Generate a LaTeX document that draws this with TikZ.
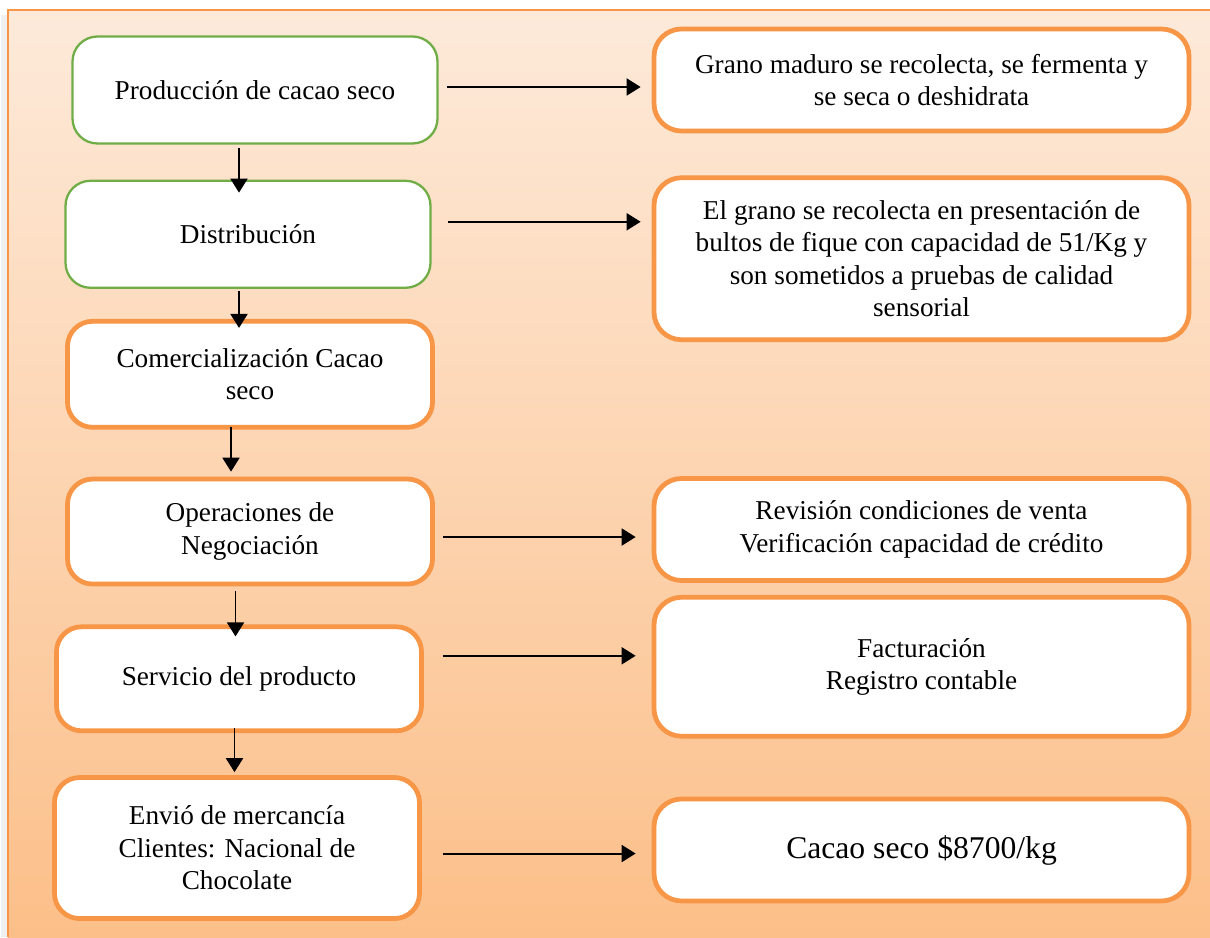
\documentclass[tikz,border=0pt]{standalone}
\usepackage{fontspec}
\setmainfont{Liberation Serif}
\usetikzlibrary{arrows.meta, positioning}

\definecolor{bgtop}{RGB}{253,234,218}
\definecolor{bgbottom}{RGB}{252,191,137}
\definecolor{boxorange}{RGB}{247,150,70}
\definecolor{leafgreen}{RGB}{112,173,71}

\begin{document}
\begin{tikzpicture}[
        stage/.style={draw, fill=white, rounded corners=0.5cm, minimum width=7.3cm, minimum height=2.14cm, align=center, font=\fontsize{15.5}{18.5}\selectfont},
        greenstage/.style={stage, draw=leafgreen, line width=1.3pt},
        orangestage/.style={stage, draw=boxorange, line width=2.7pt},
        detail/.style={draw=boxorange, line width=2.7pt, fill=white, rounded corners=0.55cm, minimum width=10.7cm, minimum height=2.04cm, align=center, font=\fontsize{15.5}{18.5}\selectfont},
        arrow/.style={-{Triangle[length=0.28cm, width=0.34cm]}, line width=1.1pt}
    ]
        \useasboundingbox (0,0) rectangle (24.2,-18.74);

        % Background
        \fill[gray!12] (0.02,-0.3) rectangle (0.13,-18.74);
        \fill[top color=bgtop, bottom color=bgbottom] (0.16,-0.2) rectangle (24.2,-18.74);
        \draw[boxorange, line width=1pt] (0.16,-18.74) -- (0.16,-0.2) -- (24.2,-0.2);

        % Stages
        \node[greenstage] (produccion) at (5.10,-1.80) {Producción de cacao seco};
        \node[greenstage, below=0.70cm of produccion, xshift=-0.14cm] (distribucion) {Distribución};
        \node[orangestage, below=0.60cm of distribucion, xshift=0.04cm, minimum height=2.12cm] (comercio) {Comercialización Cacao\\seco};
        \node[orangestage, below=0.94cm of comercio, minimum height=2.1cm] (negocio) {Operaciones de\\Negociación};
        \node[orangestage, below=0.76cm of negocio, xshift=-0.22cm, minimum height=2.08cm] (servicio) {Servicio del producto};
        \node[orangestage, below=0.84cm of servicio, xshift=-0.04cm, minimum height=2.82cm] (envio) {Envió de mercancía\\Clientes: Nacional de\\Chocolate};

        % Details
        \node[detail, right=4.26cm of produccion, yshift=0.2cm] (grano) {Grano maduro se recolecta, se fermenta y\\se seca o deshidrata};
        \node[detail, below=0.84cm of grano, minimum height=3.24cm] (bultos) {El grano se recolecta en presentación de\\bultos de fique con capacidad de 51/Kg y\\son sometidos a pruebas de calidad\\sensorial};
        \node[detail, below=2.68cm of bultos] (venta) {Revisión condiciones de venta\\Verificación capacidad de crédito};
        \node[detail, below=0.24cm of venta, minimum height=2.78cm] (factura) {Facturación\\Registro contable};
        \node[detail, below=1.16cm of factura, font=\fontsize{18}{21}\selectfont] (precio) {Cacao seco \$8700/kg};

        % Arrows down
        \draw[arrow, shorten <=0.06cm, shorten >=-0.26cm] ([xshift=-0.32cm]produccion.south) -- ([xshift=-0.32cm]produccion.south |- distribucion.north);
        \draw[arrow, shorten <=0.04cm, shorten >=-0.18cm] ([xshift=-0.18cm]distribucion.south) -- ([xshift=-0.18cm]distribucion.south |- comercio.north);
        \draw[arrow, shorten <=-0.06cm, shorten >=0.1cm] ([xshift=-0.38cm]comercio.south) -- ([xshift=-0.38cm]comercio.south |- negocio.north);
        \draw[arrow, shorten <=0.1cm, shorten >=-0.24cm] ([xshift=-0.29cm]negocio.south) -- ([xshift=-0.29cm]negocio.south |- servicio.north);
        \draw[arrow, shorten <=-0.1cm, shorten >=0.06cm] ([xshift=-0.09cm]servicio.south) -- ([xshift=-0.09cm]servicio.south |- envio.north);

        % Arrows right
        \draw[arrow, shorten <=0.16cm, shorten >=0.22cm] ([yshift=0.06cm]produccion.east) -- ([yshift=0.06cm]produccion.east -| grano.west);
        \draw[arrow, shorten <=0.32cm, shorten >=0.22cm] ([yshift=0.25cm]distribucion.east) -- ([yshift=0.25cm]distribucion.east -| bultos.west);
        \draw[arrow, shorten <=0.16cm, shorten >=0.32cm] ([yshift=-0.11cm]negocio.east) -- ([yshift=-0.11cm]negocio.east -| venta.west);
        \draw[arrow, shorten <=0.38cm, shorten >=0.32cm] ([yshift=0.46cm]servicio.east) -- ([yshift=0.46cm]servicio.east -| factura.west);
        \draw[arrow, shorten <=0.42cm, shorten >=0.32cm] ([yshift=-0.11cm]envio.east) -- ([yshift=-0.11cm]envio.east -| precio.west);
    \end{tikzpicture}
\end{document}
